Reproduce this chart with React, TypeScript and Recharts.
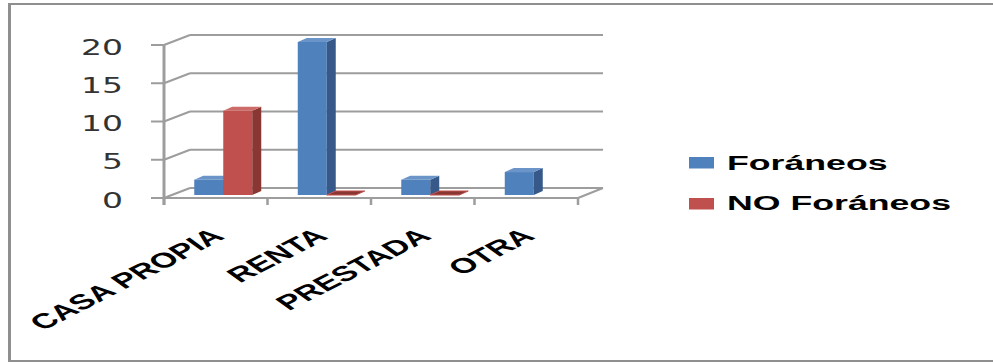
import React from 'react';
import { BarChart, Bar, XAxis, YAxis, CartesianGrid } from 'recharts';

const categories = ['CASA PROPIA', 'RENTA', 'PRESTADA', 'OTRA'];
const foraneos: (number | null)[] = [2, 20, 2, 3];
const noForaneos: (number | null)[] = [11, 0, 0, null];
const yTicks = [0, 5, 10, 15, 20];
const seriesNames = ['Foráneos', 'NO Foráneos'];
const seriesKeys = ['foraneos', 'noForaneos'];

const data = categories.map((c, i) => ({ name: c, foraneos: foraneos[i], noForaneos: noForaneos[i] }));

const W = 993;
const H = 364;
const DEPTH_X = 9;
const DEPTH_Y = -4;
const FRONT_DX = -8;
const FRONT_DY = 3;
const BACK_DX = 18;
const BACK_DY = -7;
const GRID = '#9d9d9d';

const palette = [
  { front: '#4F81BD', side: '#36598A', top: '#6B95C9' },
  { front: '#C0504D', side: '#8A3633', top: '#CD6B68' },
];

function make3D(idx: number, key: string) {
  return (props: any) => {
    const { x, y, width, height, payload } = props;
    if (!payload || payload[key] == null) return <g />;
    const c = palette[idx];
    const h = Math.max(0, height);
    const x2 = x + width;
    return (
      <g>
        {h > 0 && <rect x={x} y={y} width={width} height={h} fill={c.front} />}
        {h > 0 && (
          <polygon
            points={`${x2},${y} ${x2 + DEPTH_X},${y + DEPTH_Y} ${x2 + DEPTH_X},${y + h + DEPTH_Y} ${x2},${y + h}`}
            fill={c.side}
          />
        )}
        <polygon
          points={`${x},${y} ${x + DEPTH_X},${y + DEPTH_Y} ${x2 + DEPTH_X},${y + DEPTH_Y} ${x2},${y}`}
          fill={h > 0 ? c.top : c.side}
          stroke={h > 0 ? 'none' : c.front}
          strokeWidth={h > 0 ? 0 : 1}
        />
      </g>
    );
  };
}

const gridLine = (p: any) => {
  const { x1, x2, y1, y, width, height, index } = p;
  const frontL = x1 + FRONT_DX;
  const backL = x1 + BACK_DX;
  const backR = x2 + BACK_DX - 1;
  const isTop = Math.abs(y1 - y) < 0.5;
  const isBottom = Math.abs(y1 - (y + height)) < 0.5;
  const n = categories.length;
  return (
    <g key={`g-${index}`}>
      <line x1={backL} y1={y1 + BACK_DY} x2={backR} y2={y1 + BACK_DY} stroke={GRID} strokeWidth={2} />
      <line x1={frontL} y1={y1 + FRONT_DY} x2={backL} y2={y1 + BACK_DY} stroke={GRID} strokeWidth={2} />
      {isTop && (
        <line x1={frontL} y1={y1 + FRONT_DY} x2={frontL} y2={y1 + height + FRONT_DY + 7} stroke={GRID} strokeWidth={3} />
      )}
      {isBottom && (
        <g>
          <line x1={frontL} y1={y1 + FRONT_DY} x2={x2 + FRONT_DX} y2={y1 + FRONT_DY} stroke={GRID} strokeWidth={2} />
          <line x1={x2 + FRONT_DX} y1={y1 + FRONT_DY} x2={backR} y2={y1 + BACK_DY} stroke={GRID} strokeWidth={2} />
          {Array.from({ length: n + 1 }).map((_, i) => {
            const tx = frontL + (i * width) / n;
            return <line key={i} x1={tx} y1={y1 + FRONT_DY} x2={tx} y2={y1 + FRONT_DY + 7} stroke={GRID} strokeWidth={2.5} />;
          })}
        </g>
      )}
    </g>
  );
};

const YTick = (props: any) => {
  const { x, y, payload } = props;
  return (
    <g>
      <line x1={x - 13} y1={y + FRONT_DY} x2={x} y2={y + FRONT_DY} stroke={GRID} strokeWidth={2} />
      <text
        transform={`translate(${x - 41},${y + 12.5}) scale(1.5,1)`}
        textAnchor="end"
        fontFamily="DejaVu Sans"
        fontSize={22}
        fill="#333"
      >
        {payload.value}
      </text>
    </g>
  );
};

const XTick = (props: any) => {
  const { x, y, payload } = props;
  return (
    <text
      transform={`translate(${x + 2},${y + 43}) scale(1.65,1) rotate(-40)`}
      textAnchor="end"
      fontFamily="Liberation Sans"
      fontWeight="bold"
      fontSize={21}
      fill="#000"
    >
      {payload.value}
    </text>
  );
};

export default function App() {
  return (
    <div style={{ position: 'absolute', left: 0, top: 0, width: W, height: H, background: '#fff' }}>
      <BarChart
        width={W}
        height={H}
        data={data}
        margin={{ top: 42, right: 407, bottom: 109, left: 112 }}
        barCategoryGap="21.5%"
        barGap={0}
      >
        <CartesianGrid vertical={false} horizontal={gridLine as any} />
        <XAxis
          dataKey="name"
          height={60}
          axisLine={false}
          tickLine={false}
          tickSize={0}
          tickMargin={0}
          interval={0}
          tick={<XTick />}
        />
        <YAxis
          width={60}
          domain={[0, 20]}
          ticks={yTicks}
          axisLine={false}
          tickLine={false}
          tickSize={8}
          tickMargin={0}
          tick={<YTick />}
        />
        {seriesKeys.map((k, i) => (
          <Bar
            key={k}
            dataKey={k}
            name={seriesNames[i]}
            fill={palette[i].front}
            isAnimationActive={false}
            shape={make3D(i, k)}
          />
        ))}
      </BarChart>
      <svg
        width={W}
        height={H}
        style={{ position: 'absolute', left: 0, top: 0, pointerEvents: 'none' }}
      >
        <line x1={9.5} y1={3} x2={9.5} y2={361} stroke="#8f8f8f" strokeWidth={3} />
        <line x1={8} y1={4} x2={W} y2={4} stroke="#8f8f8f" strokeWidth={2} />
        <line x1={8} y1={361} x2={W} y2={361} stroke="#8f8f8f" strokeWidth={2} />
        {seriesNames.map((name, i) => (
          <g key={name}>
            <rect x={689} y={157 + i * 41} width={25} height={11.5} fill={palette[i].front} />
            <text
              transform={`translate(727,${170 + i * 40}) scale(1.7,1)`}
              fontFamily="Liberation Sans"
              fontWeight="bold"
              fontSize={21}
              fill="#000"
            >
              {name}
            </text>
          </g>
        ))}
      </svg>
    </div>
  );
}
